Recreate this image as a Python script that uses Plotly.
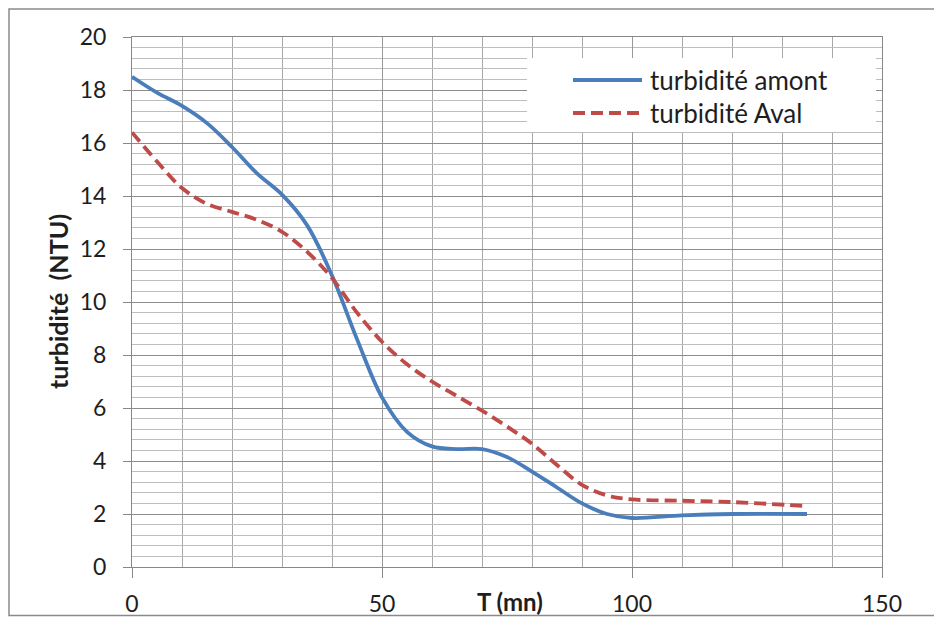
import plotly.graph_objects as go

# ---- data ----
t_mn = [0, 5, 10, 15, 20, 25, 30, 35, 40, 45, 50, 55, 60, 65, 70, 75, 80, 85, 90, 95, 100, 110, 120, 135]
turb_amont = [18.5, 17.9, 17.4, 16.75, 15.85, 14.85, 14.05, 12.9, 11.0, 8.6, 6.4, 5.1, 4.55, 4.45, 4.45, 4.15,
              3.6, 3.0, 2.4, 2.0, 1.85, 1.95, 2.0, 2.0]
turb_aval = [16.4, 15.3, 14.3, 13.7, 13.4, 13.1, 12.65, 11.9, 10.9, 9.6, 8.5, 7.65, 7.0, 6.45, 5.9, 5.3,
             4.65, 3.85, 3.1, 2.7, 2.55, 2.5, 2.45, 2.3]
series_names = ["turbidité amont", "turbidité Aval"]
x_ticks = [0, 50, 100, 150]
y_ticks = [0, 2, 4, 6, 8, 10, 12, 14, 16, 18, 20]
x_title = "T (mn)"
y_title = "turbidité  (NTU)"

BLUE = "#4A7EBB"
RED = "#BE4B48"
FONT = "Lato"
TXT = "#1e1e1e"

fig = go.Figure()
fig.add_trace(go.Scatter(x=t_mn, y=turb_amont, mode="lines", name=series_names[0],
                         line=dict(color=BLUE, width=3.8, shape="spline", smoothing=1.0),
                         showlegend=False))
fig.add_trace(go.Scatter(x=t_mn, y=turb_aval, mode="lines", name=series_names[1],
                         line=dict(color=RED, width=3.8, shape="spline", smoothing=1.0, dash="12px,6px"),
                         showlegend=False))

# page offset of the plot div (body margin); keep the page inside the 942x625 window
OFF = 8
W, H = 926, 609
# plot area in page pixels: x 132..882, y 37..567
L, T = 132 - OFF, 37 - OFF
R = W - (882 - OFF)
B = H - (567 - OFF)
pw, ph = W - L - R, H - T - B


def px(xp):
    return (xp - OFF - L) / pw


def py(yp):
    return (H - B - (yp - OFF)) / ph


fig.update_layout(
    width=W, height=H,
    margin=dict(l=L, r=R, t=T, b=B, pad=0, autoexpand=False),
    paper_bgcolor="white", plot_bgcolor="white",
    font=dict(family=FONT, color=TXT, size=23),
    showlegend=False,
    xaxis=dict(range=[0, 150], tickvals=x_ticks, ticks="outside", ticklen=10, tickcolor="#888888",
               showgrid=True, gridcolor="#999999", gridwidth=1, automargin=False,
               minor=dict(dtick=10, showgrid=True, gridcolor="#a8a8a8", gridwidth=1),
               showline=True, linecolor="#888888", linewidth=1, mirror=True,
               zeroline=False, ticklabelstandoff=6, tickfont=dict(size=23, color=TXT)),
    yaxis=dict(range=[0, 20], tickvals=y_ticks, ticks="outside", ticklen=8, tickcolor="#888888",
               showgrid=True, gridcolor="#8c8c8c", gridwidth=1, automargin=False,
               minor=dict(dtick=0.4, showgrid=True, gridcolor="#bdbdbd", gridwidth=1),
               showline=True, linecolor="#888888", linewidth=1, mirror=True,
               zeroline=False, ticklabelstandoff=12, tickfont=dict(size=23, color=TXT)),
)

shapes = [
    # outer chart border
    dict(type="rect", xref="paper", yref="paper", x0=px(9), x1=px(990), y0=py(615.5), y1=py(9),
         line=dict(color="#8a8a8a", width=1.5), fillcolor="rgba(0,0,0,0)", layer="above"),
    # legend box (white, hides the grid)
    dict(type="rect", xref="paper", yref="paper", x0=px(527), x1=px(876), y0=py(132), y1=py(58),
         line=dict(width=0), fillcolor="white", layer="above"),
    dict(type="line", xref="paper", yref="paper", x0=px(573), x1=px(642), y0=py(80), y1=py(80),
         line=dict(color=BLUE, width=3.8), layer="above"),
    dict(type="line", xref="paper", yref="paper", x0=px(573), x1=px(642), y0=py(113), y1=py(113),
         line=dict(color=RED, width=3.8, dash="12px,6px"), layer="above"),
]
fig.update_layout(shapes=shapes)

annotations = [
    dict(text=series_names[0], xref="paper", yref="paper", x=px(648), y=py(80), xanchor="left",
         yanchor="middle", showarrow=False, font=dict(size=26, family=FONT, color=TXT)),
    dict(text=series_names[1], xref="paper", yref="paper", x=px(648), y=py(113), xanchor="left",
         yanchor="middle", showarrow=False, font=dict(size=26, family=FONT, color=TXT)),
    dict(text="<b>" + x_title + "</b>", xref="paper", yref="paper", x=px(510), y=py(601),
         xanchor="center", yanchor="middle", showarrow=False, font=dict(size=24, family=FONT, color=TXT)),
    dict(text="<b>" + y_title + "</b>", xref="paper", yref="paper", x=px(58), y=py(302),
         xanchor="center", yanchor="middle", textangle=-90, showarrow=False,
         font=dict(size=25, family=FONT, color=TXT)),
]
fig.update_layout(annotations=annotations)

fig.write_html("out.html")
